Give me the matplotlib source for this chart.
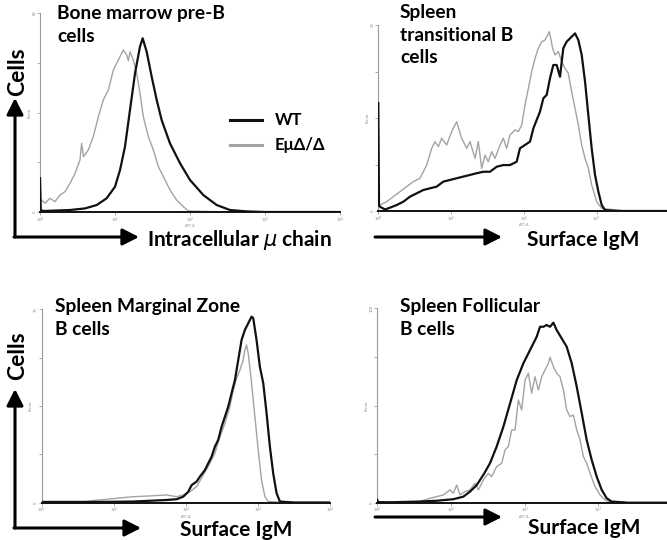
import matplotlib
matplotlib.use("Agg")
import matplotlib.pyplot as plt

plt.rcParams['font.family'] = ['Lato', 'DejaVu Sans']

W, H = 667, 540

# ---------------- data (x = log10 fluorescence, y = fraction of axis max) -------------
# Panel 1: Bone marrow pre-B cells, intracellular mu chain
p1_wt_x = [0.0, 0.01, 0.044, 0.4, 0.6, 0.756, 0.889, 1.0, 1.067, 1.133, 1.2, 1.267, 1.333, 1.369,
           1.422, 1.489, 1.556, 1.622, 1.733, 1.867, 2.0, 2.178, 2.356, 2.533, 2.756, 3.0, 4.0]
p1_wt_y = [0.17, 0.01, 0.005, 0.01, 0.018, 0.035, 0.069, 0.127, 0.211, 0.328, 0.513, 0.697, 0.831, 0.873,
           0.806, 0.68, 0.563, 0.462, 0.345, 0.245, 0.161, 0.085, 0.035, 0.01, 0.003, 0.0, 0.0]
p1_ko_x = [0.0, 0.01, 0.02, 0.067, 0.133, 0.2, 0.267, 0.333, 0.4, 0.467, 0.533, 0.555, 0.58, 0.644,
           0.711, 0.778, 0.844, 0.911, 0.978, 1.044, 1.111, 1.156, 1.178, 1.2, 1.244, 1.289, 1.333,
           1.378, 1.444, 1.511, 1.578, 1.644, 1.733, 1.822, 1.911, 1.978, 2.5, 4.0]
p1_ko_y = [0.26, 0.05, 0.06, 0.044, 0.069, 0.052, 0.085, 0.102, 0.144, 0.194, 0.261, 0.345, 0.278, 0.312,
           0.379, 0.479, 0.563, 0.613, 0.714, 0.764, 0.814, 0.789, 0.76, 0.806, 0.764, 0.697, 0.597,
           0.479, 0.379, 0.312, 0.228, 0.178, 0.111, 0.06, 0.027, 0.005, 0.0, 0.0]

# Panel 2: Spleen transitional B cells, surface IgM
p2_wt_x = [0.0, 0.01, 0.023, 0.092, 0.161, 0.252, 0.344, 0.435, 0.527, 0.619, 0.71, 0.802, 0.893,
           0.985, 1.076, 1.168, 1.26, 1.351, 1.443, 1.534, 1.626, 1.717, 1.809, 1.901, 1.946, 2.015,
           2.084, 2.13, 2.175, 2.221, 2.267, 2.313, 2.358, 2.404, 2.45, 2.496, 2.541, 2.587, 2.633,
           2.679, 2.702, 2.748, 2.794, 2.84, 2.885, 2.931, 2.977, 3.023, 3.069, 3.115, 3.3, 4.0]
p2_wt_y = [0.58, 0.03, 0.023, 0.008, 0.018, 0.032, 0.05, 0.077, 0.095, 0.113, 0.122, 0.131, 0.158,
           0.167, 0.176, 0.185, 0.194, 0.203, 0.211, 0.211, 0.238, 0.247, 0.247, 0.265, 0.337, 0.355,
           0.373, 0.444, 0.489, 0.534, 0.606, 0.624, 0.713, 0.785, 0.785, 0.722, 0.875, 0.91, 0.928,
           0.946, 0.955, 0.919, 0.839, 0.695, 0.516, 0.337, 0.194, 0.104, 0.032, 0.005, 0.0, 0.0]
p2_ko_x = [0.0, 0.01, 0.023, 0.115, 0.206, 0.298, 0.389, 0.481, 0.573, 0.664, 0.733, 0.779, 0.825,
           0.87, 0.939, 1.008, 1.076, 1.145, 1.214, 1.26, 1.329, 1.374, 1.42, 1.466, 1.511, 1.557,
           1.603, 1.672, 1.717, 1.763, 1.809, 1.878, 1.924, 1.97, 2.015, 2.061, 2.107, 2.153, 2.198,
           2.244, 2.29, 2.35, 2.395, 2.427, 2.473, 2.519, 2.564, 2.61, 2.656, 2.702, 2.748, 2.794,
           2.84, 2.885, 2.931, 3.0, 3.069, 3.183, 3.296, 3.4, 4.0]
p2_ko_y = [0.06, 0.03, 0.032, 0.05, 0.077, 0.104, 0.131, 0.158, 0.176, 0.247, 0.337, 0.373, 0.346,
           0.391, 0.355, 0.427, 0.48, 0.391, 0.337, 0.373, 0.283, 0.373, 0.229, 0.301, 0.265, 0.319,
           0.283, 0.355, 0.391, 0.337, 0.409, 0.436, 0.427, 0.462, 0.57, 0.659, 0.749, 0.821, 0.875,
           0.91, 0.919, 0.964, 0.875, 0.839, 0.857, 0.803, 0.767, 0.74, 0.642, 0.552, 0.462, 0.355,
           0.283, 0.229, 0.14, 0.05, 0.014, 0.009, 0.005, 0.0, 0.0]

# Panel 3: Spleen marginal zone B cells, surface IgM
p3_wt_x = [0.0, 0.809, 1.27, 1.733, 1.872, 1.964, 2.034, 2.08, 2.149, 2.195, 2.265, 2.311, 2.357,
           2.403, 2.449, 2.496, 2.542, 2.588, 2.634, 2.681, 2.727, 2.773, 2.819, 2.866, 2.912, 2.935,
           2.981, 3.027, 3.074, 3.12, 3.166, 3.212, 3.259, 3.305, 3.5, 4.0]
p3_wt_y = [0.003, 0.003, 0.005, 0.013, 0.017, 0.03, 0.056, 0.09, 0.108, 0.134, 0.168, 0.203, 0.237,
           0.289, 0.324, 0.392, 0.444, 0.496, 0.565, 0.634, 0.738, 0.841, 0.893, 0.928, 0.962, 0.954,
           0.841, 0.703, 0.617, 0.462, 0.289, 0.151, 0.048, 0.005, 0.0, 0.0]
p3_ko_x = [0.0, 0.6, 0.76, 0.809, 1.04, 1.27, 1.5, 1.733, 1.872, 1.964, 2.057, 2.149, 2.242, 2.334,
           2.403, 2.473, 2.542, 2.611, 2.658, 2.704, 2.75, 2.796, 2.819, 2.842, 2.866, 2.912, 2.958,
           3.004, 3.05, 3.097, 3.143, 3.4, 4.0]
p3_ko_y = [0.003, 0.004, 0.012, 0.013, 0.022, 0.03, 0.034, 0.039, 0.03, 0.039, 0.056, 0.082, 0.142,
           0.203, 0.255, 0.341, 0.41, 0.496, 0.582, 0.643, 0.686, 0.738, 0.789, 0.815, 0.772, 0.617,
           0.444, 0.272, 0.116, 0.03, 0.005, 0.0, 0.0]

# Panel 4: Spleen follicular B cells, surface IgM
p4_wt_x = [0.0, 0.01, 0.172, 0.579, 0.805, 1.032, 1.167, 1.258, 1.349, 1.439, 1.529, 1.62, 1.71,
           1.801, 1.891, 1.982, 2.072, 2.163, 2.208, 2.253, 2.298, 2.344, 2.389, 2.434, 2.502, 2.57,
           2.638, 2.706, 2.774, 2.841, 2.909, 2.977, 3.045, 3.112, 3.18, 3.4, 4.0]
p4_wt_y = [0.014, 0.003, 0.002, 0.006, 0.01, 0.018, 0.031, 0.057, 0.091, 0.143, 0.203, 0.289, 0.39,
           0.51, 0.63, 0.717, 0.785, 0.854, 0.905, 0.905, 0.914, 0.905, 0.926, 0.888, 0.845, 0.802,
           0.717, 0.597, 0.46, 0.323, 0.22, 0.134, 0.066, 0.023, 0.006, 0.0, 0.0]
p4_ko_x = [0.0, 0.3, 0.579, 0.715, 0.805, 0.896, 0.986, 1.032, 1.077, 1.122, 1.19, 1.258, 1.326,
           1.371, 1.439, 1.507, 1.552, 1.62, 1.688, 1.733, 1.778, 1.823, 1.869, 1.914, 1.959, 2.005,
           2.05, 2.095, 2.14, 2.186, 2.231, 2.276, 2.321, 2.344, 2.389, 2.434, 2.479, 2.525, 2.57,
           2.615, 2.66, 2.706, 2.751, 2.796, 2.841, 2.887, 2.954, 3.022, 3.09, 3.135, 3.4, 4.0]
p4_ko_y = [0.005, 0.003, 0.006, 0.023, 0.031, 0.04, 0.066, 0.048, 0.091, 0.04, 0.057, 0.066, 0.1,
           0.066, 0.117, 0.151, 0.134, 0.186, 0.203, 0.271, 0.289, 0.374, 0.374, 0.528, 0.477, 0.631,
           0.666, 0.563, 0.648, 0.58, 0.648, 0.683, 0.717, 0.748, 0.7, 0.666, 0.648, 0.58, 0.477,
           0.443, 0.451, 0.374, 0.323, 0.237, 0.203, 0.151, 0.083, 0.04, 0.014, 0.006, 0.0, 0.0]

decade_ticks = [0, 1, 2, 3, 4]
decade_labels = ['10$^0$', '10$^1$', '10$^2$', '10$^3$', '10$^4$']
ymax_labels = ['82', '30', '70', '100']
titles = ['Bone marrow pre-B\ncells', 'Spleen\ntransitional B\ncells',
          'Spleen Marginal Zone\nB cells', 'Spleen Follicular\nB cells']
xlabels = ['Intracellular $\\mu$ chain', 'Surface IgM', 'Surface IgM', 'Surface IgM']
legend_labels = ['WT', 'E\u03bc\u0394/\u0394']

WT_COLOR = '#111111'
KO_COLOR = '#a3a3a3'

fig = plt.figure(figsize=(W / 100, H / 100), dpi=100)


def fx(px):
    return px / W


def fy(py):
    return 1 - py / H


# axes boxes in pixels: left, right(at decade 4), top, bottom
boxes = [(40, 340, 13, 212), (378.3, 669.5, 25, 211), (41.7, 330, 309.3, 502.5), (377.3, 672.1, 308.3, 502.7)]
series = [(p1_wt_x, p1_wt_y, p1_ko_x, p1_ko_y), (p2_wt_x, p2_wt_y, p2_ko_x, p2_ko_y),
          (p3_wt_x, p3_wt_y, p3_ko_x, p3_ko_y), (p4_wt_x, p4_wt_y, p4_ko_x, p4_ko_y)]
n_xlabels = [5, 4, 5, 4]

axes = []
for i, ((l, r, t, b), (wx, wy, kx, ky)) in enumerate(zip(boxes, series)):
    ax = fig.add_axes([fx(l), fy(b), (r - l) / W, (b - t) / H])
    ax.set_xlim(0, 4)
    ax.set_ylim(0, 1)
    ax.plot(kx, ky, color=KO_COLOR, lw=1.0, zorder=2)
    ax.plot(wx, wy, color=WT_COLOR, lw=1.6, zorder=3)
    for s in ['top', 'right']:
        ax.spines[s].set_visible(False)
    ax.spines['left'].set_color('#9a9a9a')
    ax.spines['left'].set_linewidth(0.8)
    ax.spines['bottom'].set_color('#111111')
    ax.spines['bottom'].set_linewidth(1.4)
    ax.set_xticks(decade_ticks)
    labs = [lab if k < n_xlabels[i] else '' for k, lab in enumerate(decade_labels)]
    ax.set_xticklabels(labs, fontsize=3, color='#888888')
    ax.set_yticks([0, 0.25, 0.5, 0.75, 1.0])
    ax.set_yticklabels(['0', '', '', '', ymax_labels[i]], fontsize=3, color='#888888', rotation=90,
                       va='center')
    ax.tick_params(axis='both', length=2, width=0.5, color='#888888', pad=0.5)
    ax.set_xlabel('APC-A', fontsize=2.5, color='#888888', labelpad=-0.5)
    ax.set_ylabel('Events', fontsize=2.5, color='#888888', labelpad=1)
    ax.patch.set_alpha(0)
    axes.append(ax)

# titles
title_pos = [(57, 5), (400, 4), (55, 298), (400, 298)]
for (x, y), t in zip(title_pos, titles):
    fig.text(fx(x), fy(y), t, fontsize=13.8, fontweight='bold', ha='left', va='top', linespacing=1.4)

# axis labels (big)
xlabel_pos = [(147, 240), (527, 240), (180, 530), (528, 528)]
for (x, y), t in zip(xlabel_pos, xlabels):
    fig.text(fx(x), fy(y), t, fontsize=15, fontweight='bold', ha='left', va='center')

for y in [72, 356]:
    fig.text(fx(18), fy(y), 'Cells', fontsize=16.5, fontweight='bold', rotation=90, ha='center', va='center')

# arrows
def arrow(x0, y0, x1, y1):
    fig.add_artist(matplotlib.patches.FancyArrowPatch(
        (fx(x0), fy(y0)), (fx(x1), fy(y1)), transform=fig.transFigure,
        arrowstyle='-|>,head_length=0.55,head_width=0.28', mutation_scale=18,
        color='black', lw=2.2, shrinkA=0, shrinkB=0))

arrow(15, 237, 15, 98)
arrow(14, 237, 139, 237)
arrow(375, 237, 502, 237)
arrow(15, 528, 15, 389)
arrow(14, 528, 141, 528)
arrow(375, 517, 502, 517)

# legend
fig.add_artist(matplotlib.lines.Line2D([fx(230), fx(262)], [fy(120), fy(120)], color=WT_COLOR, lw=2.2))
fig.add_artist(matplotlib.lines.Line2D([fx(230), fx(262)], [fy(145), fy(145)], color=KO_COLOR, lw=2.2))
fig.text(fx(275), fy(120), legend_labels[0], fontsize=12, fontweight='bold', va='center', ha='left')
fig.text(fx(275), fy(145), legend_labels[1], fontsize=12, fontweight='bold', va='center', ha='left')

fig.savefig('out.png', dpi=100)
